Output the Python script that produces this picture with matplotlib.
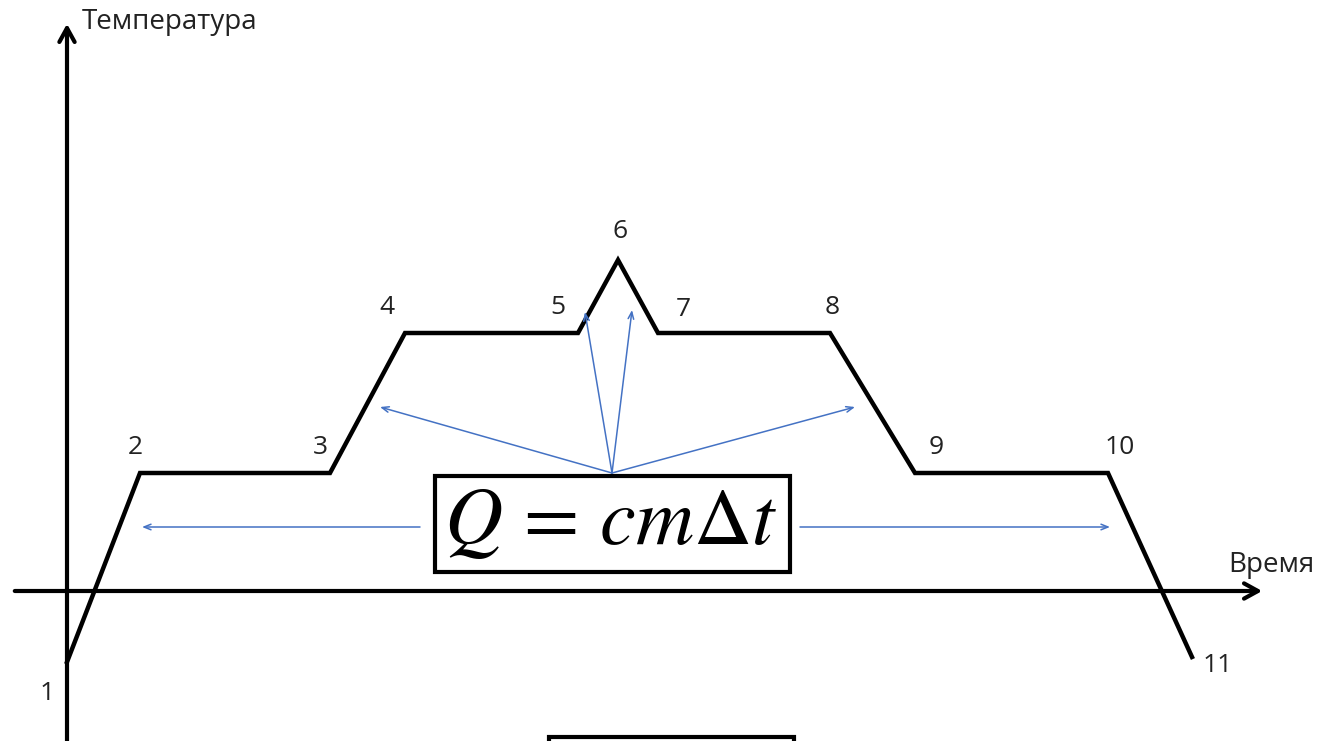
import matplotlib
matplotlib.use("Agg")
import matplotlib.pyplot as plt
from matplotlib.patches import Rectangle

# точки графика (время, температура), условные единицы
point_labels = ["1", "2", "3", "4", "5", "6", "7", "8", "9", "10", "11"]
time_vals = [0, 73, 263, 338, 511, 551, 591, 763, 848, 1041, 1125]
temp_vals = [-71, 118, 118, 258, 258, 331, 258, 258, 118, 118, -66]

# смещения подписей точек
label_dx = [-20, -5, -10, -18, -20, 2, 25, 2, 21, 12, 26]
label_dy = [-31, 26, 26, 26, 26, 28, 23, 26, 26, 26, -9]

plt.rcParams["font.family"] = ["Open Sans", "DejaVu Sans"]
plt.rcParams["mathtext.fontset"] = "stix"

fig = plt.figure(figsize=(13.22, 7.41), dpi=100)
ax = fig.add_axes([0, 0, 1, 1])
ax.set_xlim(-67, 1255)
ax.set_ylim(-150, 591)
ax.axis("off")

# оси
ax.annotate("", xy=(1198, 0), xytext=(-55, 0),
            arrowprops=dict(arrowstyle="->,head_length=1.0,head_width=0.55", lw=3, color="black"))
ax.annotate("", xy=(0, 570), xytext=(0, -160),
            arrowprops=dict(arrowstyle="->,head_length=1.0,head_width=0.55", lw=3, color="black"))
ax.text(15, 569, "Температура", fontsize=20, ha="left", va="center", color="#222222")
ax.text(1161, 26, "Время", fontsize=20, ha="left", va="center", color="#222222")

# ломаная
ax.plot(time_vals, temp_vals, color="black", lw=3.2, solid_joinstyle="miter", zorder=3)

for lab, t, T, dx, dy in zip(point_labels, time_vals, temp_vals, label_dx, label_dy):
    ax.text(t + dx, T + dy, lab, fontsize=19, ha="center", va="center", color="#222222")

# формула в рамке
ax.add_patch(Rectangle((368, 19), 355, 96, fill=False, lw=3, ec="black", zorder=4))
ax.text(544, 68, r"$Q\,=\,cm\Delta t$", fontsize=58, ha="center", va="center", zorder=5)

# синие стрелки
blue = "#4472C4"
arrow_ends = [(313, 184), (518, 279), (565, 281), (788, 184)]
for x, y in arrow_ends:
    ax.annotate("", xy=(x, y), xytext=(545, 118),
                arrowprops=dict(arrowstyle="->,head_length=0.5,head_width=0.2", lw=1.1,
                                color=blue, shrinkA=0, shrinkB=0))
ax.annotate("", xy=(75, 64), xytext=(353, 64),
            arrowprops=dict(arrowstyle="->,head_length=0.5,head_width=0.2", lw=1.1,
                            color=blue, shrinkA=0, shrinkB=0))
ax.annotate("", xy=(1043, 64), xytext=(733, 64),
            arrowprops=dict(arrowstyle="->,head_length=0.5,head_width=0.2", lw=1.1,
                            color=blue, shrinkA=0, shrinkB=0))

# край второй рамки снизу
ax.add_patch(Rectangle((482, -200), 245, 54, fill=False, lw=3, ec="black"))

fig.savefig("out.png", dpi=100)
